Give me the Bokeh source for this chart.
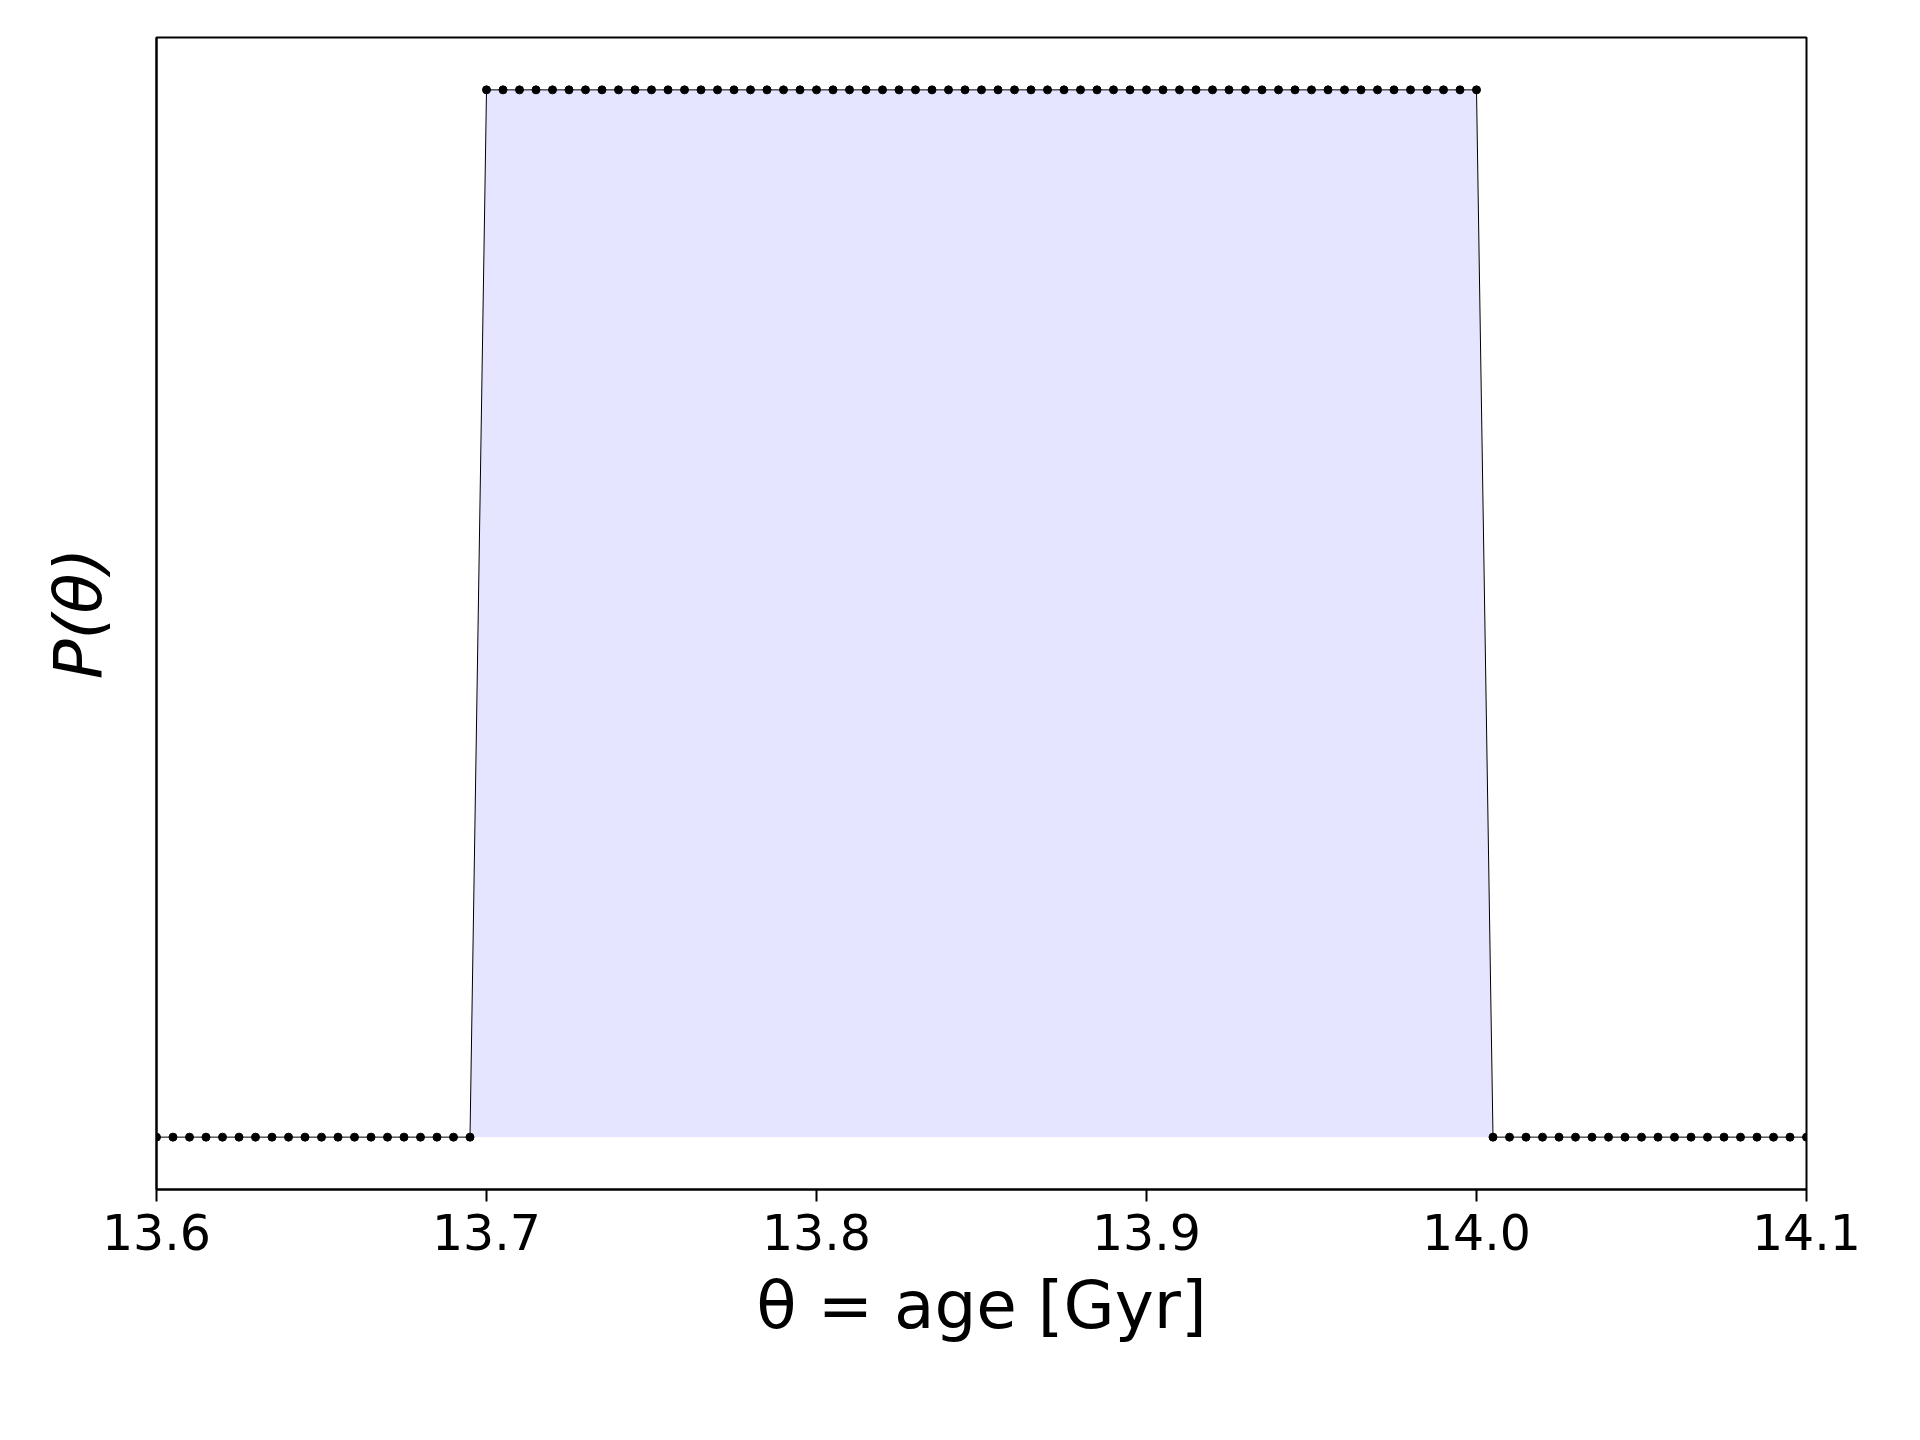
import numpy as np
from bokeh.plotting import figure
from bokeh.models import Range1d, FixedTicker
from bokeh.embed import file_html
from bokeh.resources import INLINE

ages = np.round(np.linspace(13.6, 14.1, 101), 3)
n_low_left = 20
n_high = 61
n_low_right = 20
prob = [0.0] * n_low_left + [1.0] * n_high + [0.0] * n_low_right
x_ticks = [13.6, 13.7, 13.8, 13.9, 14.0, 14.1]

p = figure(width=1900, height=1420, output_backend="svg", toolbar_location=None,
           x_range=Range1d(13.6, 14.1), y_range=Range1d(-0.05, 1.05),
           min_border_left=156, min_border_right=94, min_border_top=37, min_border_bottom=231)
p.grid.visible = False
p.outline_line_color = "black"
p.outline_line_width = 2

p.varea(x=list(ages), y1=0, y2=prob, fill_color="blue", fill_alpha=0.1)
p.line(list(ages), prob, line_color="black", line_width=1)
p.scatter(list(ages), prob, size=8, color="black")

p.xaxis.ticker = FixedTicker(ticks=x_ticks)
p.xaxis.major_label_overrides = {t: f"{t:.1f}" for t in x_ticks}
p.xaxis.minor_tick_line_color = None
p.xaxis.major_tick_out = 12
p.xaxis.major_tick_in = 0
p.xaxis.major_tick_line_width = 2
p.xaxis.axis_line_width = 2
p.xaxis.major_label_text_font = "DejaVu Sans"
p.xaxis.major_label_text_font_size = "49px"
p.xaxis.major_label_text_color = "black"
p.xaxis.major_label_standoff = 12
p.xaxis.axis_label = "θ = age [Gyr]"
p.xaxis.axis_label_text_font = "DejaVu Sans"
p.xaxis.axis_label_text_font_size = "66px"
p.xaxis.axis_label_text_font_style = "normal"
p.xaxis.axis_label_text_color = "black"
p.xaxis.axis_label_standoff = 14

p.yaxis.ticker = FixedTicker(ticks=[])
p.yaxis.minor_tick_line_color = None
p.yaxis.axis_line_width = 2
p.yaxis.axis_label = "P(θ)"
p.yaxis.axis_label_text_font = "DejaVu Sans"
p.yaxis.axis_label_text_font_size = "66px"
p.yaxis.axis_label_text_font_style = "italic"
p.yaxis.axis_label_text_color = "black"
p.yaxis.axis_label_standoff = 40

open("out.html", "w").write(file_html(p, INLINE))
